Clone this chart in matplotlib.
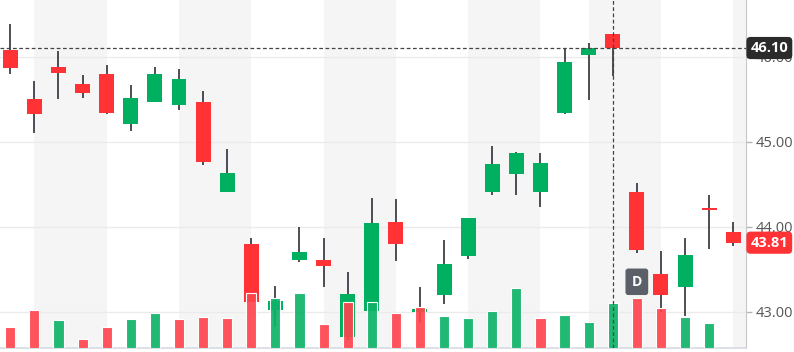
#! /usr/bin/env python3

import numpy as np
import matplotlib
matplotlib.use("Agg")
import matplotlib.pyplot as plt
import matplotlib.transforms as mtransforms

plt.rcParams["font.family"] = ["Open Sans", "DejaVu Sans"]

# daily OHLC + volume (volume in millions)
opens = [46.08, 45.50, 45.88, 45.68, 45.79, 45.21, 45.47, 45.43, 45.47, 44.41,
         43.79, 43.02, 43.61, 43.61, 42.70, 43.01, 44.05, 43.00, 43.19, 43.65,
         44.41, 44.62, 44.41, 45.33, 46.02, 46.27, 44.41, 43.44, 43.29, 44.22, 43.93]
highs = [46.38, 45.71, 46.07, 45.78, 45.90, 45.67, 45.88, 45.85, 45.59, 44.91,
         43.86, 43.30, 43.99, 43.87, 43.46, 44.34, 44.32, 43.29, 43.84, 44.10,
         44.95, 44.88, 44.86, 46.09, 46.16, 46.27, 44.51, 43.71, 43.86, 44.37, 44.05]
lows = [45.79, 45.10, 45.50, 45.51, 45.32, 45.12, 45.46, 45.37, 44.72, 44.41,
        43.11, 42.82, 43.58, 43.29, 42.67, 43.01, 43.59, 42.86, 43.09, 43.62,
        44.37, 44.37, 44.23, 45.32, 45.49, 45.77, 43.69, 42.99, 42.95, 43.74, 43.77]
closes = [45.86, 45.32, 45.81, 45.57, 45.33, 45.51, 45.79, 45.74, 44.76, 44.63,
          43.11, 43.12, 43.70, 43.53, 43.21, 44.04, 43.79, 43.02, 43.56, 44.10,
          44.74, 44.87, 44.75, 45.94, 46.10, 46.10, 43.72, 43.20, 43.67, 44.19, 43.81]
volumes = [2.13, 3.83, 2.83, 0.90, 2.13, 2.93, 3.53, 2.93, 3.13, 3.03,
           5.53, 5.03, 5.53, 2.43, 4.57, 4.57, 3.53, 4.13, 3.23, 3.03,
           3.73, 6.03, 2.97, 3.33, 2.63, 4.53, 5.03, 4.03, 3.07, 2.53, np.nan]

# alternating shaded periods (start, end candle index)
bands = [(1, 4), (7, 10), (13, 16), (19, 22), (24, 27), (30, 31)]
priceTicks = [43.0, 44.0, 45.0, 46.0]
crossIdx = 25
crossPrice = 46.10
dividendIdx = 26

RED = "#ff3236"
GREEN = "#00b060"
VOL_RED = (1.0, 0.27, 0.30, 0.92)
VOL_GREEN = (0.06, 0.70, 0.41, 0.92)
WICK = "#1c1f27"

n = len(opens)
x = np.arange(n)

fig = plt.figure(figsize=(7.94, 3.52), dpi=100)
ax = fig.add_axes([0, 4 / 352, 746 / 794, 348 / 352])
ax2 = ax.twinx()

ax.set_xlim(-0.427, 30.53)
ax.set_ylim(42.571, 46.665)

for a, b in bands:
    ax.axvspan(a, b, color="#f5f5f5", zorder=0, lw=0)

for t in priceTicks:
    ax.axhline(t, color="#ebebeb", lw=1, zorder=0.5)

# candles
for i in range(n):
    up = closes[i] >= opens[i]
    col = GREEN if up else RED
    ax.vlines(x[i], lows[i], highs[i], color=WICK, lw=1.1, zorder=2)
    lo, hi = min(opens[i], closes[i]), max(opens[i], closes[i])
    ax.bar(x[i], max(hi - lo, 0.025), bottom=lo, width=0.62, color=col, zorder=3, lw=0)

ax.axhline(crossPrice, color="#444444", lw=0.9, ls=(0, (3, 2)), zorder=4)

ax.yaxis.tick_right()
ax.yaxis.set_label_position("right")
ax.set_yticks(priceTicks)
ax.set_yticklabels(["{:.2f}".format(t) for t in priceTicks])
ax.tick_params(axis="y", which="both", left=False, labelleft=False, right=True,
               labelright=True, length=4, width=1, color="#b5b5b5", pad=3,
               labelsize=10.5, labelcolor="#555555")
ax.set_xticks([])
for s in ["top", "left"]:
    ax.spines[s].set_visible(False)
ax.spines["right"].set_color("#c8c8c8")
ax.spines["bottom"].set_color("#d5dae2")
ax.spines["bottom"].set_linewidth(1.2)

# volume on overlay axes
ax2.set_ylim(0, 34.8)
ax2.set_yticks([])
ax2.tick_params(axis="y", right=False, labelright=False, left=False, labelleft=False)
for s in ax2.spines.values():
    s.set_visible(False)
volColors = []
for i in range(n):
    if i == 0:
        volColors.append(VOL_GREEN if closes[i] >= opens[i] else VOL_RED)
    else:
        volColors.append(VOL_GREEN if closes[i] >= closes[i - 1] else VOL_RED)
ax2.bar(x, np.nan_to_num(volumes), width=0.42, color=volColors,
        edgecolor="white", linewidth=0.8, zorder=2)
ax2.axvline(crossIdx, color="#444444", lw=0.9, ls=(0, (3, 2)), zorder=5)

# price labels on the axis
tr = mtransforms.blended_transform_factory(ax.transAxes, ax.transData)
ax2.text(1.006, crossPrice, "{:.2f}".format(crossPrice), transform=tr, ha="left",
         va="center", color="white", fontsize=10.5, fontweight="bold", clip_on=False,
         zorder=10, bbox=dict(boxstyle="round,pad=0.28", fc="#2b2b2b", ec="none"))
ax2.text(1.006, closes[-1], "{:.2f}".format(closes[-1]), transform=tr, ha="left",
         va="center", color="white", fontsize=10.5, fontweight="bold", clip_on=False,
         zorder=10, bbox=dict(boxstyle="round,pad=0.28", fc=RED, ec="none"))

# dividend marker
ax.text(dividendIdx, 43.35, "D", ha="center", va="center", color="white",
        fontsize=10, fontweight="bold", zorder=6,
        bbox=dict(boxstyle="round,pad=0.45,rounding_size=0.2", fc="#5b6068", ec="none"))

fig.savefig("out.png", dpi=100, facecolor="white")
